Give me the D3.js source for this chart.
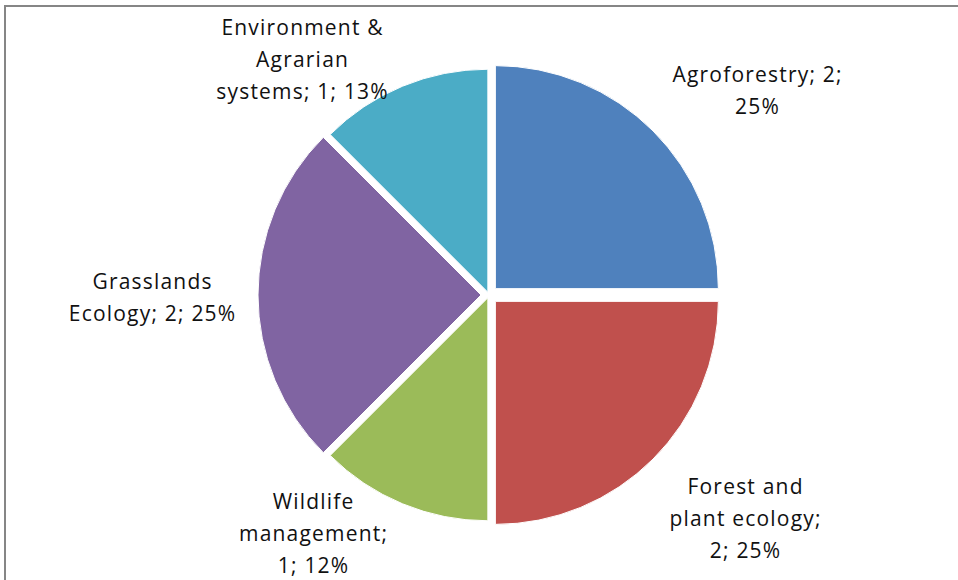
<!DOCTYPE html>
<html><head><meta charset="utf-8">
<script src="https://cdn.jsdelivr.net/npm/d3@7"></script>
<style>html,body{margin:0;padding:0;background:#fff;}svg{display:block;}</style>
</head><body>
<svg id="chart" width="958" height="580"></svg>
<script>
const categories = ["Agroforestry", "Forest and plant ecology", "Wildlife management", "Grasslands Ecology", "Environment & Agrarian systems"];
const values = [2, 2, 1, 2, 1];
const percents = ["25%", "25%", "12%", "25%", "13%"];
const colors = ["#4F81BD", "#C0504D", "#9BBB59", "#8064A2", "#4BACC6"];
// label line breaks (as in the picture)
const labelLines = [
  ["Agroforestry; 2;", "25%"],
  ["Forest and", "plant ecology;", "2; 25%"],
  ["Wildlife", "management;", "1; 12%"],
  ["Grasslands", "Ecology; 2; 25%"],
  ["Environment &", "Agrarian", "systems; 1; 13%"]
];

// layout / style (not data)
const cx = 489, cy = 295, R = 223;
const explode = [9, 9, 3, 8, 3];
const labelPos = [[757, 75], [745, 487], [313, 502], [152, 282], [302, 28]];
const lineH = 32;

const svg = d3.select("#chart");
svg.append("rect").attr("x", 5).attr("y", 6).attr("width", 1000).attr("height", 1000)
  .attr("fill", "#fff").attr("stroke", "#868686").attr("stroke-width", 2);

const pie = d3.pie().sort(null).value(d => d).startAngle(0).endAngle(2 * Math.PI);
const arcs = pie(values);
const arc = d3.arc().innerRadius(0).outerRadius(R);

const g = svg.append("g").attr("transform", `translate(${cx},${cy})`);
g.selectAll("path").data(arcs).join("path")
  .attr("d", arc)
  .attr("fill", (d, i) => colors[i])
  .attr("stroke", "#fff").attr("stroke-width", 1)
  .attr("transform", (d, i) => {
    const a = (d.startAngle + d.endAngle) / 2;
    return `translate(${Math.sin(a) * explode[i]},${-Math.cos(a) * explode[i]})`;
  });

const lg = svg.append("g");
labelLines.forEach((lines, i) => {
  const t = lg.append("text")
    .attr("text-anchor", "middle")
    .attr("font-family", "'Open Sans', Lato, sans-serif")
    .attr("font-size", 21)
    .attr("letter-spacing", 1.2)
    .attr("fill", "#111");
  lines.forEach((ln, j) => {
    t.append("tspan").attr("x", labelPos[i][0] + 0.6).attr("y", labelPos[i][1] + j * lineH)
      .attr("dy", "0.35em").text(ln);
  });
});
</script>
</body></html>
